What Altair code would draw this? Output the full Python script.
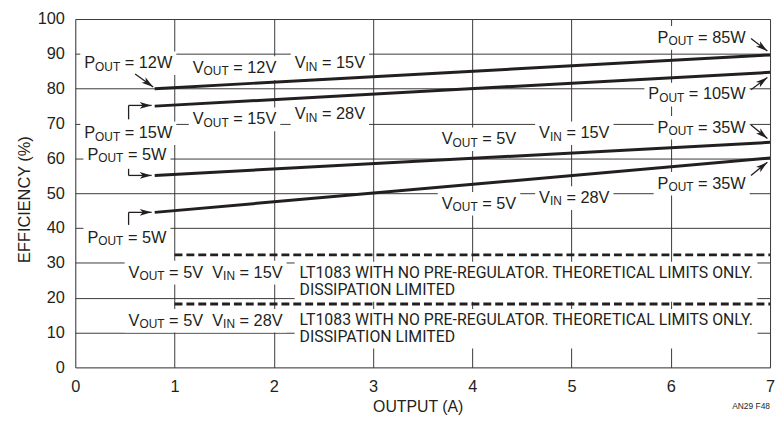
import math
import altair as alt
import pandas as pd

# ---------------- geometry of the plot area ----------------
W, H = 702, 352
X_MAX, Y_MAX = 7, 100
PXU = W / X_MAX          # pixels per x unit
PYU = H / Y_MAX          # pixels per y unit

FONT = "Liberation Sans, Arial, Helvetica, sans-serif"
FONT_NOTE = "Roboto, Liberation Sans, sans-serif"
INK = "#231f20"
GRID = "#3a3a3a"
FS_MAIN, FS_SUB, SUB_DROP = 16.5, 12, 2.5
FS_NOTE = 16
NOTE_WF = 0.91           # Roboto caps are ~0.91 of Arial widths

# ---------------- data ----------------
x_ticks = [0, 1, 2, 3, 4, 5, 6, 7]
y_ticks = [0, 10, 20, 30, 40, 50, 60, 70, 80, 90, 100]

curve_names = ["VOUT=12V VIN=15V", "VOUT=15V VIN=28V", "VOUT=5V VIN=15V", "VOUT=5V VIN=28V"]
curve_x_start = [0.8, 0.8, 0.8, 0.8]
curve_x_end = [7.0, 7.0, 7.0, 7.0]
curve_y_start = [80.0, 75.0, 55.1, 44.5]
curve_y_end = [89.7, 84.7, 64.6, 60.1]

limit_names = ["LT1083 VIN=15V", "LT1083 VIN=28V"]
limit_x_start = [1.0, 1.0]
limit_x_end = [7.0, 7.0]
limit_y = [32.3, 18.2]

# labels with subscripts: list of (text, is_subscript)
label_parts = [
    [("P", 0), ("OUT", 1), (" = 12W", 0)],
    [("V", 0), ("OUT", 1), (" = 12V", 0)],
    [("V", 0), ("IN", 1), (" = 15V", 0)],
    [("P", 0), ("OUT", 1), (" = 15W", 0)],
    [("V", 0), ("OUT", 1), (" = 15V", 0)],
    [("V", 0), ("IN", 1), (" = 28V", 0)],
    [("P", 0), ("OUT", 1), (" = 5W", 0)],
    [("P", 0), ("OUT", 1), (" = 5W", 0)],
    [("P", 0), ("OUT", 1), (" = 85W", 0)],
    [("P", 0), ("OUT", 1), (" = 105W", 0)],
    [("V", 0), ("OUT", 1), (" = 5V", 0)],
    [("V", 0), ("IN", 1), (" = 15V", 0)],
    [("P", 0), ("OUT", 1), (" = 35W", 0)],
    [("V", 0), ("OUT", 1), (" = 5V", 0)],
    [("V", 0), ("IN", 1), (" = 28V", 0)],
    [("P", 0), ("OUT", 1), (" = 35W", 0)],
    [("V", 0), ("OUT", 1), (" = 5V  V", 0), ("IN", 1), (" = 15V", 0)],
    [("V", 0), ("OUT", 1), (" = 5V  V", 0), ("IN", 1), (" = 28V", 0)],
]
label_x = [0.090, 1.183, 2.210, 0.090, 1.183, 2.210, 0.122, 0.122, 5.867, 5.774,
           3.692, 4.673, 5.867, 3.692, 4.673, 5.867, 0.537, 0.537]
label_y = [85.9, 84.5, 85.9, 65.8, 69.8, 71.2, 59.6, 35.7, 93.2, 76.9,
           64.1, 65.8, 67.4, 45.6, 47.2, 51.3, 25.8, 12.0]

note_lines = ["LT1083 WITH NO PRE-REGULATOR. THEORETICAL LIMITS ONLY.", "DISSIPATION LIMITED"]
note_x = [2.26, 2.26]
note_y = [[25.6, 20.8], [12.1, 7.4]]

arrow_paths = [
    [(0.603, 84.2), (0.785, 80.5)],
    [(0.537, 71.2), (0.537, 75.2), (0.769, 75.2)],
    [(0.537, 57.0), (0.537, 55.1), (0.769, 55.1)],
    [(0.537, 40.9), (0.537, 44.5), (0.769, 44.5)],
    [(6.808, 94.4), (6.973, 90.8)],
    [(6.808, 79.7), (6.973, 83.2)],
    [(6.808, 69.6), (6.973, 65.7)],
    [(6.808, 55.1), (6.973, 58.9)],
]

footnote = "AN29 F48"

# ---------------- text metrics (Arial / Liberation em widths) ----------------
EM = {' ': .278, '\u00a0': .278, '=': .584, '-': .333, '.': .278,
      'A': .667, 'C': .722, 'D': .722, 'E': .667, 'G': .778, 'H': .722, 'I': .278,
      'L': .556, 'M': .833, 'N': .722, 'O': .778, 'P': .667, 'R': .722, 'S': .667,
      'T': .611, 'U': .722, 'V': .667, 'W': .944, 'Y': .667}


def text_w(s, fs, factor=1.0):
    return sum(EM.get(c, .556) for c in s) * fs * factor


# ---------------- build tables ----------------
curves = pd.DataFrame(
    [{"series": n, "x": xs, "y": ys} for n, xs, ys in zip(curve_names, curve_x_start, curve_y_start)]
    + [{"series": n, "x": xe, "y": ye} for n, xe, ye in zip(curve_names, curve_x_end, curve_y_end)]
)
limits = pd.DataFrame({"series": limit_names, "x": limit_x_start, "x2": limit_x_end, "y": limit_y})

seg_rows, box_rows = [], []
for parts, lx, ly in zip(label_parts, label_x, label_y):
    cur = 0.0
    for txt, sub in parts:
        fs = FS_SUB if sub else FS_MAIN
        txt = txt.replace("  ", "\u00a0\u00a0")
        lead = len(txt) - len(txt.lstrip(" "))
        cur += text_w(" " * lead, fs)
        body = txt.lstrip(" ")
        seg_rows.append({"x": lx + cur / PXU,
                         "y": ly - (SUB_DROP / PYU if sub else 0.0),
                         "t": body, "fs": fs})
        cur += text_w(body, fs)
    box_rows.append({"x": lx - 4 / PXU, "x2": lx + (cur + 4) / PXU,
                     "y": ly - 7 / PYU, "y2": ly + (0.716 * FS_MAIN + 5) / PYU})

note_rows = []
for nx, ys in zip(note_x, note_y):
    wmax = 0
    for txt, ny in zip(note_lines, ys):
        note_rows.append({"x": nx, "y": ny, "t": txt})
        wmax = max(wmax, text_w(txt, FS_NOTE, NOTE_WF))
    box_rows.append({"x": nx - 5 / PXU, "x2": nx + (wmax + 8) / PXU,
                     "y": ys[-1] - 7 / PYU, "y2": ys[0] + (0.72 * FS_NOTE + 5) / PYU})

segs = pd.DataFrame(seg_rows)
boxes = pd.DataFrame(box_rows)
notes = pd.DataFrame(note_rows)

shaft_rows, head_rows = [], []
for path in arrow_paths:
    for (x1, y1), (x2, y2) in zip(path[:-1], path[1:]):
        shaft_rows.append({"x": x1, "y": y1, "x2": x2, "y2": y2})
    (xa, ya), (xb, yb) = path[-2], path[-1]
    ang = math.degrees(math.atan2((xb - xa) * PXU, (yb - ya) * PYU)) % 360
    head_rows.append({"x": xb, "y": yb, "angle": ang})
shafts = pd.DataFrame(shaft_rows)
heads = pd.DataFrame(head_rows)

# ---------------- encodings ----------------
x_scale = alt.Scale(domain=[0, X_MAX], nice=False, zero=False)
y_scale = alt.Scale(domain=[0, Y_MAX], nice=False, zero=False)

x_axis = alt.Axis(values=x_ticks, format="d", grid=True, gridColor=GRID, gridWidth=1,
                  tickSize=0, domain=False, labelFont=FONT, labelFontSize=16.5,
                  labelColor=INK, labelPadding=11.5, labelFlush=False,
                  title="OUTPUT (A)", titleFont=FONT, titleFontSize=16,
                  titleFontWeight="normal", titleColor=INK, titleX=346, titleY=44.5,
                  titleAlign="center", titleBaseline="alphabetic")
y_axis = alt.Axis(values=y_ticks, format="d", grid=True, gridColor=GRID, gridWidth=1,
                  tickSize=0, domain=False, labelFont=FONT, labelFontSize=16.5,
                  labelColor=INK, labelPadding=11, labelFlush=False,
                  title="EFFICIENCY (%)", titleFont=FONT, titleFontSize=16.5,
                  titleFontWeight="normal", titleColor=INK, titleAngle=270,
                  titleX=-46, titleY=182, titleAlign="center", titleBaseline="alphabetic")


def X():
    return alt.X("x:Q", scale=x_scale, axis=x_axis)


def Y():
    return alt.Y("y:Q", scale=y_scale, axis=y_axis)


bg = alt.Chart(boxes).mark_rect(color="white", strokeWidth=0).encode(
    x=X(), x2="x2:Q", y=Y(), y2="y2:Q")

curve_layer = alt.Chart(curves).mark_line(color=INK, strokeWidth=3, strokeCap="butt").encode(
    x=X(), y=Y(), detail="series:N")

limit_layer = alt.Chart(limits).mark_rule(color=INK, strokeWidth=3, strokeDash=[8, 4]).encode(
    x=X(), x2="x2:Q", y=Y())

shaft_layer = alt.Chart(shafts).mark_rule(color=INK, strokeWidth=1.3).encode(
    x=X(), x2="x2:Q", y=Y(), y2="y2:Q")

head_layer = alt.Chart(heads).mark_point(
    shape="M0,0 L-0.28,1 L0,0.75 L0.28,1 Z", filled=True, size=576,
    color=INK, opacity=1, strokeWidth=0).encode(
    x=X(), y=Y(), angle=alt.Angle("angle:Q", scale=None))

label_layer = alt.Chart(segs).mark_text(
    align="left", baseline="alphabetic", font=FONT, color=INK).encode(
    x=X(), y=Y(), text="t:N", size=alt.Size("fs:Q", scale=None))

note_layer = alt.Chart(notes).mark_text(
    align="left", baseline="alphabetic", font=FONT_NOTE, fontSize=FS_NOTE, color=INK).encode(
    x=X(), y=Y(), text="t:N")

foot_layer = alt.Chart(pd.DataFrame({"t": [footnote]})).mark_text(
    align="right", baseline="alphabetic", font=FONT, fontSize=8.5, color=INK).encode(
    x=alt.value(W), y=alt.value(394), text="t:N")

chart = alt.layer(
    bg, curve_layer, limit_layer, shaft_layer, head_layer, label_layer, note_layer, foot_layer
).properties(
    width=W, height=H,
    autosize=alt.AutoSizeParams(type="none"),
    padding={"left": 68, "top": 9, "right": 5, "bottom": 48},
).configure_view(
    stroke=INK, strokeWidth=1.5
).configure(font=FONT, background="white")

chart.save("out.html", embed_options={"renderer": "svg", "actions": False})
